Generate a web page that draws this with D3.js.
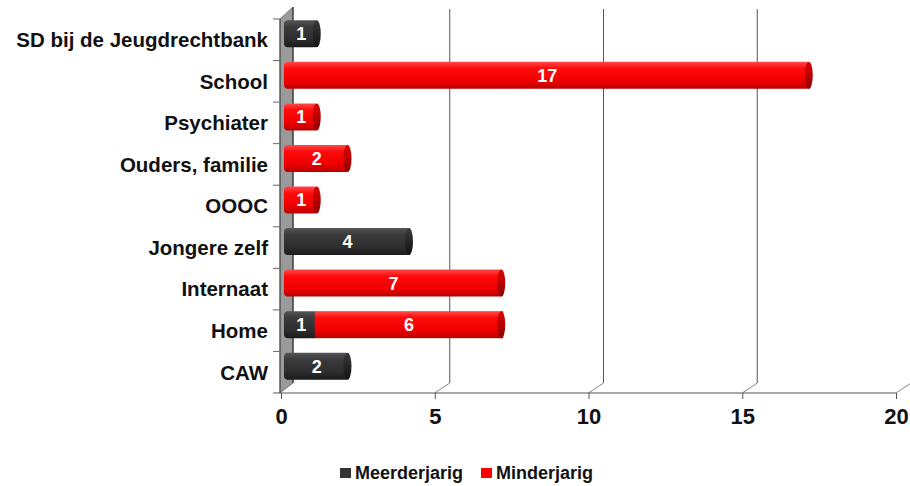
<!DOCTYPE html>
<html><head><meta charset="utf-8">
<script src="https://cdn.jsdelivr.net/npm/d3@7"></script>
<style>body{margin:0;background:#fff}svg{display:block;font-family:"Liberation Sans",Arial,sans-serif}</style>
</head><body>
<script>
const categories = ["SD bij de Jeugdrechtbank","School","Psychiater","Ouders, familie","OOOC","Jongere zelf","Internaat","Home","CAW"];
const meerderjarig = [1,0,0,0,0,4,0,1,2];
const minderjarig  = [0,17,1,2,1,0,7,6,0];
const seriesNames = ["Meerderjarig","Minderjarig"];
const seriesColors = ["#333333","#ff0000"];
const xTicks = [0,5,10,15,20];

const W=910,H=486;
const svg=d3.select("body").append("svg").attr("width",W).attr("height",H);
const defs=svg.append("defs");
function grad(id,stops){const g=defs.append("linearGradient").attr("id",id).attr("x1",0).attr("y1",0).attr("x2",0).attr("y2",1);
 stops.forEach(s=>g.append("stop").attr("offset",s[0]).attr("stop-color",s[1]));}
grad("g0",[[0,"#555"],[0.25,"#3a3a3a"],[0.7,"#2e2e2e"],[1,"#1a1a1a"]]);
grad("g1",[[0,"#ff4a4a"],[0.25,"#ff0a0a"],[0.7,"#f00000"],[1,"#b80000"]]);
grad("c0",[[0,"#3a3a3a"],[1,"#111"]]);
grad("c1",[[0,"#e00000"],[1,"#900000"]]);

const floorY=393, topY=19;
const x=d3.scaleLinear().domain([0,20]).range([281,896]);
const y=d3.scaleBand().domain(categories).range([topY,floorY]).paddingInner(0.35).paddingOuter(0.175);
const bdx=7, bdy=-6, gdx=15, gdy=-10;

// back gridlines
xTicks.forEach(t=>{ if(t===0) return;
 svg.append("line").attr("x1",x(t)+gdx).attr("x2",x(t)+gdx).attr("y1",topY+gdy).attr("y2",floorY+gdy)
  .attr("stroke",t===20?"#bbb":"#555").attr("stroke-width",1);
 svg.append("line").attr("x1",x(t)).attr("y1",floorY).attr("x2",x(t)+gdx).attr("y2",floorY+gdy)
  .attr("stroke","#888").attr("stroke-width",1);
});
// left wall
svg.append("path").attr("d",`M${x(0)-1},${floorY} L${x(0)-1},${topY} L${x(0)+gdx-3},${topY+gdy-2} L${x(0)+gdx-3},${floorY+gdy} Z`)
 .attr("fill","#9a9a9a").attr("stroke","#666").attr("stroke-width",0.8);
svg.append("line").attr("x1",x(0)+gdx-3).attr("x2",x(0)+gdx-3).attr("y1",topY+gdy-2).attr("y2",floorY+gdy).attr("stroke","#333").attr("stroke-width",1.2);

// floor front line and axis
svg.append("line").attr("x1",x(0)-8).attr("x2",x(20)).attr("y1",floorY).attr("y2",floorY).attr("stroke","#555");
const xa=svg.append("g").attr("transform",`translate(0,${floorY})`)
 .call(d3.axisBottom(x).tickValues(xTicks).tickSize(6).tickPadding(9).tickFormat(d3.format("d")));
xa.select(".domain").remove();
xa.selectAll("line").attr("stroke","#555");
xa.selectAll("text").attr("font-size",22).attr("font-weight","bold").attr("fill","#111").attr("font-family","'Liberation Sans',Arial,sans-serif");

// y axis
svg.append("line").attr("x1",x(0)-1).attr("x2",x(0)-1).attr("y1",topY).attr("y2",floorY).attr("stroke","#444");
const step=y.step();
categories.forEach((c,i)=>{
 const yb=y(c)-y.paddingInner()*step/2;
 svg.append("line").attr("x1",x(0)-8).attr("x2",x(0)).attr("y1",yb).attr("y2",yb).attr("stroke","#666");
});
svg.append("g").selectAll("text").data(categories).join("text")
 .attr("x",268).attr("y",d=>y(d)+y.bandwidth()/2).attr("dy","0.36em")
 .attr("text-anchor","end").attr("font-size",20.5).attr("font-weight","bold").attr("fill","#111").text(d=>d);

// bars
const data=categories.map((c,i)=>({c,segs:[{s:0,v:meerderjarig[i],x0:0},{s:1,v:minderjarig[i],x0:meerderjarig[i]}]}));
const gBars=svg.append("g");
const bh=y.bandwidth();
data.forEach(d=>{
 const yy=y(d.c)+bdy;
 const total=d.segs.reduce((a,s)=>a+s.v,0);
 d.segs.forEach(s=>{ if(!s.v) return;
  const x0=x(s.x0)+bdx-4, x1=x(s.x0+s.v)+bdx;
  const isLast=(s.x0+s.v)===total;
  gBars.append("rect").attr("x",x0).attr("y",yy).attr("width",x1-x0).attr("height",bh)
   .attr("rx",s.x0===0?4:0).attr("fill",`url(#g${s.s})`);
  if(isLast){
   gBars.append("ellipse").attr("cx",x1-2).attr("cy",yy+bh/2).attr("rx",4).attr("ry",bh/2)
    .attr("fill",`url(#c${s.s})`);
  }
 });
 d.segs.forEach(s=>{ if(!s.v) return;
  gBars.append("text").attr("x",(x(s.x0)+x(s.x0+s.v))/2+bdx-2).attr("y",yy+bh/2).attr("dy","0.36em")
   .attr("text-anchor","middle").attr("font-size",18).attr("font-weight","bold").attr("fill","#fff").text(s.v);
 });
});

// legend
const lg=svg.append("g");
const legX=[340,481];
seriesNames.forEach((n,i)=>{
 lg.append("rect").attr("x",legX[i]).attr("y",468).attr("width",11).attr("height",10).attr("fill",seriesColors[i]);
 lg.append("text").attr("x",legX[i]+15).attr("y",473).attr("dy","0.36em").attr("font-size",18).attr("font-weight","bold").attr("fill","#111").text(n);
});
</script>
</body></html>
